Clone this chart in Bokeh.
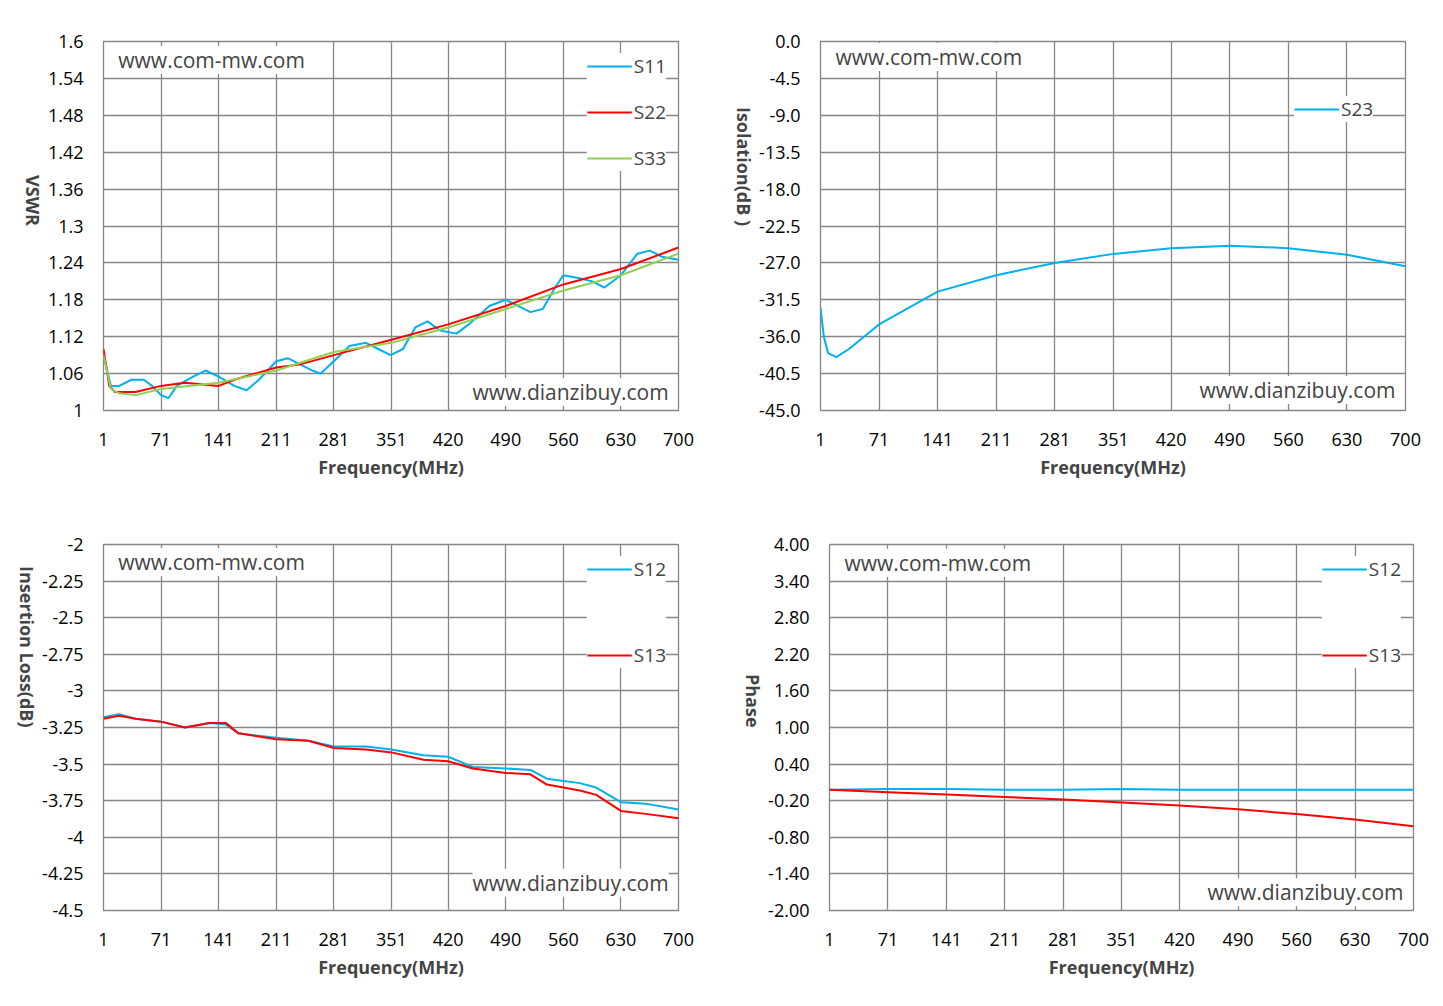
import math
from bokeh.plotting import figure
from bokeh.layouts import column, row
from bokeh.models import FixedTicker, Label, Legend, LegendItem, Range1d
from bokeh.embed import file_html
from bokeh.resources import INLINE

XTICKS = [1, 71, 141, 211, 281, 351, 420, 490, 560, 630, 700]

s11_f = [1,10,20,35,50,60,71,80,90,110,125,141,160,175,190,211,225,240,255,265,281,300,320,335,350,365,380,395,410,430,445,470,490,505,520,535,550,560,580,595,610,630,650,665,680,700]
s11_v = [1.09,1.04,1.04,1.05,1.05,1.04,1.025,1.02,1.04,1.055,1.065,1.055,1.04,1.033,1.05,1.08,1.085,1.075,1.065,1.06,1.08,1.105,1.11,1.10,1.09,1.10,1.135,1.145,1.13,1.125,1.14,1.17,1.18,1.17,1.16,1.165,1.20,1.22,1.215,1.21,1.20,1.22,1.255,1.26,1.25,1.245]
s22_f = [1,8,15,40,71,100,141,160,211,240,281,351,420,490,560,630,700]
s22_v = [1.10,1.04,1.03,1.03,1.04,1.045,1.04,1.05,1.07,1.075,1.09,1.115,1.14,1.17,1.205,1.23,1.265]
s33_f = [1,10,20,40,71,141,211,281,351,420,490,560,630,700]
s33_v = [1.09,1.035,1.028,1.025,1.035,1.045,1.065,1.095,1.11,1.135,1.165,1.195,1.22,1.255]

s23_f = [1,5,10,20,35,71,141,211,281,351,420,490,560,630,700]
s23_v = [-32.5,-36,-38,-38.5,-37.5,-34.5,-30.5,-28.5,-27,-25.9,-25.2,-24.9,-25.2,-26,-27.4]

il12_f = [1,20,40,71,100,130,150,165,211,250,281,320,351,390,420,450,490,520,540,580,600,630,660,700]
il12_v = [-3.18,-3.16,-3.19,-3.21,-3.25,-3.22,-3.23,-3.29,-3.32,-3.34,-3.38,-3.38,-3.40,-3.44,-3.45,-3.52,-3.53,-3.54,-3.60,-3.63,-3.66,-3.76,-3.77,-3.81]
il13_f = [1,20,40,71,100,130,150,165,211,250,281,320,351,390,420,450,490,520,540,580,600,630,660,700]
il13_v = [-3.19,-3.17,-3.19,-3.21,-3.25,-3.22,-3.22,-3.29,-3.33,-3.34,-3.39,-3.40,-3.42,-3.47,-3.48,-3.53,-3.56,-3.57,-3.64,-3.68,-3.71,-3.82,-3.84,-3.87]

ph_f = [1,71,141,211,281,351,420,490,560,630,700]
ph12_v = [-0.02,-0.01,-0.01,-0.02,-0.02,-0.01,-0.02,-0.02,-0.02,-0.02,-0.02]
ph13_v = [-0.02,-0.06,-0.10,-0.14,-0.18,-0.23,-0.28,-0.34,-0.42,-0.51,-0.62]

BLUE = "#00b0f0"; RED = "#ff0000"; GREEN = "#92d050"
FONT = "Open Sans"

def make(yr, yticks, ylabels, ylabel, bl, br, bt, bb, series, legend_spacing, legend_loc, wm_y1, wm_y2):
    p = figure(width=715, height=500, output_backend="svg", toolbar_location=None,
               x_range=Range1d(1, 700), y_range=Range1d(*yr),
               min_border_left=bl, min_border_right=br, min_border_top=bt, min_border_bottom=bb)
    p.xaxis.ticker = FixedTicker(ticks=XTICKS)
    p.yaxis.ticker = FixedTicker(ticks=yticks)
    p.yaxis.major_label_overrides = {t: l for t, l in zip(yticks, ylabels)}
    for ax in (p.xaxis[0], p.yaxis[0]):
        ax.axis_line_color = None
        ax.major_tick_line_color = None
        ax.minor_tick_line_color = None
        ax.major_label_text_font = FONT
        ax.major_label_text_font_size = "18px"
        ax.major_label_text_color = "black"
        ax.axis_label_text_font = FONT
        ax.axis_label_text_font_style = "bold"
        ax.axis_label_text_font_size = "18px"
    p.xaxis.axis_label = "Frequency(MHz)"
    p.xaxis.major_label_standoff = 16
    p.xaxis.axis_label_standoff = 6
    p.yaxis.axis_label = ylabel
    p.yaxis.major_label_standoff = 14
    p.yaxis.axis_label_standoff = 12
    if "axis_label_orientation" in p.yaxis[0].properties():
        p.yaxis[0].axis_label_orientation = -math.pi / 2
    p.grid.grid_line_color = "#868686"
    p.grid.grid_line_width = 1.3
    p.grid.grid_line_alpha = 1
    p.outline_line_color = "#868686"
    p.outline_line_width = 1.3
    items = []
    for f, v, c, name in series:
        r = p.line(f, v, line_color=c, line_width=2)
        items.append(LegendItem(label=name, renderers=[r]))
    leg = Legend(items=items, location=legend_loc, spacing=legend_spacing,
                 label_text_font=FONT, label_text_font_size="19px", border_line_color=None,
                 background_fill_color="white", background_fill_alpha=1,
                 glyph_width=45, label_standoff=2, margin=12, padding=8)
    p.add_layout(leg)
    p.add_layout(Label(x=19, y=wm_y1, text="www.com-mw.com", text_font=FONT, text_font_size="21px",
                       background_fill_color="white", text_baseline="middle"))
    p.add_layout(Label(x=688, y=wm_y2, text="www.dianzibuy.com", text_font=FONT, text_font_size="21px",
                       background_fill_color="white", text_baseline="middle", text_align="right"))
    return p

vt = [1 + 0.06*i for i in range(11)]
p1 = make((1, 1.6), vt, ["1","1.06","1.12","1.18","1.24","1.3","1.36","1.42","1.48","1.54","1.6"], "VSWR",
          103, 37, 41, 90, [(s11_f, s11_v, BLUE, "S11"), (s22_f, s22_v, RED, "S22"), (s33_f, s33_v, GREEN, "S33")],
          20, "top_right", 1.57, 1.03)
it = [-45 + 4.5*i for i in range(11)]
p2 = make((-45, 0), it, ["%.1f" % t for t in it], "Isolation(dB )",
          105, 25, 40, 90, [(s23_f, s23_v, BLUE, "S23")], 10, (474, 288), -1.9, -42.5)
lt = [-4.5 + 0.25*i for i in range(11)]
p3 = make((-4.5, -2), lt, ["-4.5","-4.25","-4","-3.75","-3.5","-3.25","-3","-2.75","-2.5","-2.25","-2"], "Insertion Loss(dB)",
          103, 37, 44, 90, [(il12_f, il12_v, BLUE, "S12"), (il13_f, il13_v, RED, "S13")], 60, "top_right", -2.12, -4.31)
pt = [-2 + 0.6*i for i in range(11)]
p4 = make((-2, 4), pt, ["%.2f" % t for t in pt], "Phase",
          114, 17, 44, 90, [(ph_f, ph12_v, BLUE, "S12"), (ph_f, ph13_v, RED, "S13")], 60, "top_right", 3.7, -1.7)

g = column(row(p1, p2), row(p3, p4))
open("out.html", "w").write(file_html(g, INLINE))
